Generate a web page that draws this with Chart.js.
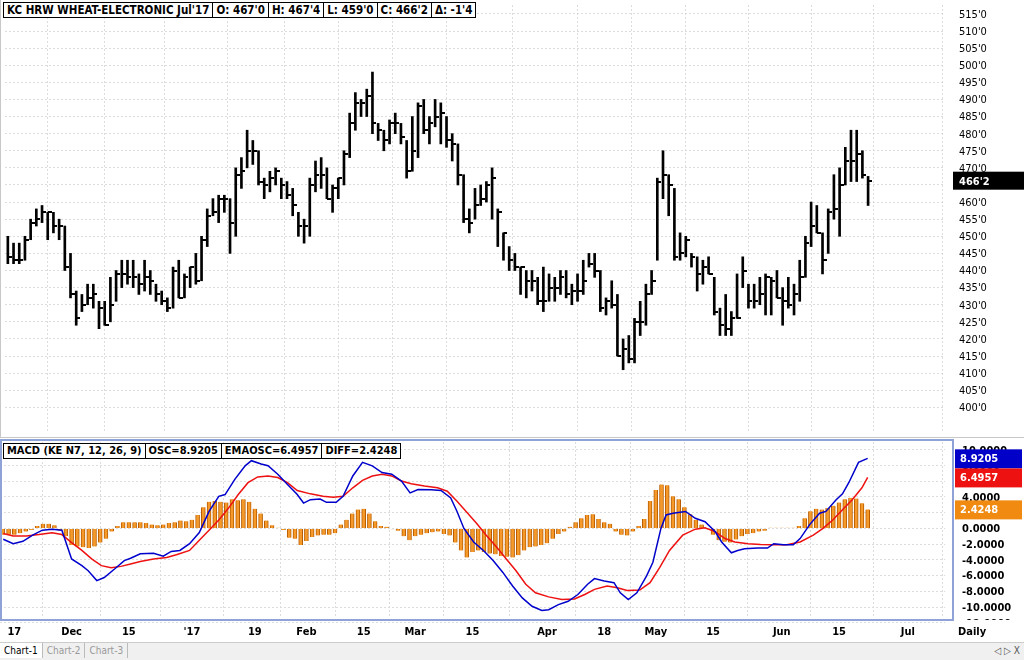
<!DOCTYPE html>
<html><head><meta charset="utf-8">
<script src="https://cdn.jsdelivr.net/npm/chart.js@4.4.1/dist/chart.umd.min.js"></script>
<style>
body{margin:0;width:1024px;height:660px;background:#fff;overflow:hidden;font-family:"DejaVu Sans Condensed","DejaVu Sans",sans-serif;position:relative}
#c1{position:absolute;left:0;top:0}
#c2{position:absolute;left:0;top:437px}
.hdr{position:absolute;display:flex;border:1px solid #000;background:#fff;font-size:11.5px;font-weight:bold;height:14px;line-height:14px;white-space:nowrap}
.hdr span{padding:0 3px;border-right:1px solid #000}
.hdr span:last-child{border-right:none}
#tabs{position:absolute;left:0;top:642px;width:1024px;height:18px;background:#f0f0f0;border-top:1px solid #ccc;font-size:10px}
#tabs span{display:inline-block;padding:2px 4px;color:#999;border-right:1px solid #bbb}
#tabs span.a{color:#000;background:#fff}
</style></head><body>
<canvas id="c1" width="1024" height="437"></canvas>
<canvas id="c2" width="1024" height="205"></canvas>
<div class="hdr" style="left:3px;top:2px"><span>KC HRW WHEAT-ELECTRONIC Jul'17</span><span>O: 467'0</span><span>H: 467'4</span><span>L: 459'0</span><span>C: 466'2</span><span>Δ: -1'4</span></div>
<div class="hdr" style="left:3px;top:443px;font-size:11px"><span>MACD (KE N7, 12, 26, 9)</span><span>OSC=8.9205</span><span>EMAOSC=6.4957</span><span>DIFF=2.4248</span></div>
<div id="tabs"><span class="a">Chart-1</span><span>Chart-2</span><span>Chart-3</span><span style="float:right;border:none;color:#555">◁ ▷ X</span></div>
<script>
const priceHigh=[450,448,448,450,455,458,459,457,457,455,453,445,434,433,436,436,431,431,438,440,443,443,443,439,443,440,436,434,432,441,443,439,441,445,450,458,461,462,462,461,470,473,
481,478,475,467,469,470,467,466,464,457,455,467,472,473,470,465,467,475,486,492,490,493,498,483,481,484,486,483,478,485,489,490,485,490,489,485,480,477,468,458,
464,465,466,470,458,451,447,445,441,440,440,438,441,439,438,440,440,436,439,443,445,445,440,432,437,433,420,421,426,431,436,440,467,475,468,464,451,450,445,444,
443,444,438,429,433,428,439,444,436,436,438,439,438,440,435,438,436,443,450,460,459,451,458,468,470,476,481,481,475,467.5];
const priceLow=[442,442,442,443,449,453,454,449,451,449,440,432,424,428,430,429,423,424,425,431,435,436,435,433,434,433,431,430,428,429,432,432,435,436,437,447,456,454,457,445,450,464,
470,471,465,461,463,465,461,461,456,450,448,450,463,464,461,457,461,465,473,481,485,485,480,478,475,477,480,477,467,469,473,480,477,482,477,476,472,465,454,451,
455,459,460,455,447,443,440,440,433,432,434,430,428,431,431,433,432,430,431,433,441,438,428,427,429,415,411,413,413,421,424,433,443,461,456,443,443,444,441,434,
436,439,427,421,421,421,426,435,429,429,430,427,427,432,424,429,427,431,438,447,451,439,445,455,450,465,466,466,467,459];
const priceClose=[444,443,443,449,454,455,457,457,453,453,441,433,426,430,432,433,429,424,430,439,439,438,438,436,438,437,433,431,429,440,432,438,441,437,449,456,457,461,461,454,468,469,
475,475,466,465,467,469,465,462,459,453,453,465,468,468,461,464,467,474,483,489,489,491,483,481,478,483,483,479,469,475,488,481,483,485,486,478,477,468,455,454,
459,461,465,467,457,451,443,441,441,437,437,431,431,435,435,438,433,434,434,437,442,440,429,431,430,415,417,414,425,425,433,437,466,468,465,444,445,449,444,439,
441,439,428,424,423,426,426,440,431,431,433,438,437,432,431,430,433,438,448,453,451,443,457,458,465,472,472,474,468,466.25];
const xTickPos=[2,12,22,33,44,53,63,72,82,95,105,114,124,136,146,158];
const xTickLabels=["17","Dec","15","'17","19","Feb","15","Mar","15","Apr","18","May","15","Jun","15","Jul"];
const histValues=[-0.8,-0.8,-0.8,-0.6,-0.4,-0.2,0.3,0.6,0.6,0.4,-0.3,-1.0,-2.1,-2.3,-2.4,-2.5,-2.3,-1.8,-1.3,-0.4,0.3,0.8,0.8,0.8,0.8,0.7,0.5,0.4,0.5,0.7,0.8,1.0,0.9,1.1,1.7,2.7,3.4,3.5,3.4,3.3,3.7,3.6,3.7,3.4,2.5,1.9,1.0,0.4,0.1,-0.2,
-1.2,-1.3,-2.1,-1.6,-1.1,-0.9,-0.8,-0.8,-0.6,0.5,1.1,1.9,2.4,2.5,1.9,0.9,0.3,0.2,-0.1,-0.3,-1.0,-1.5,-1.0,-0.8,-0.6,-0.5,-0.4,-0.7,-0.9,-1.8,-2.8,-3.7,-3.0,-2.8,-3.0,-3.2,-3.3,-3.5,-3.6,-3.7,-3.4,-2.8,-2.4,-2.3,-2.1,-1.9,-1.3,-0.7,-0.4,0.2,
0.8,1.3,1.7,1.8,1.2,0.8,0.6,-0.4,-0.8,-0.9,-0.4,0.3,1.2,3.5,4.9,5.6,5.5,4.1,3.7,2.7,1.8,1.1,0.5,-0.1,-0.8,-1.5,-1.7,-1.8,-1.4,-1.0,-0.7,-0.6,-0.4,-0.3,0.1,0.1,0.1,0.1,0.1,0.3,1.3,2.2,2.5,2.4,2.6,2.9,3.3,3.7,3.9,3.8,3.2,2.4248];
const oscX=[0.07,1.8,3.5,5.2,6.9,8.6,10.3,12.0,13.8,14.9,16.4,17.7,19.5,21.2,22.3,24.0,26.3,28.0,29.4,30.9,32.6,34.3,36.0,37.7,38.8,40.5,42.3,43.4,45.1,46.3,48.0,49.7,51.4,52.5,53.7,55.4,56.5,58.2,59.4,61.1,62.8,64.5,66.2,67.9,69.6,71.1,72.5,74.8,76.5,78.2,79.3,80.5,82.2,83.9,85.6,87.3,89.0,90.7,92.4,94.1,95.3,97.0,98.7,100.4,102.1,103.3,105.0,106.7,107.8,109.2,110.7,112.4,113.5,114.9,115.8,117.0,119.2,120.9,122.6,124.4,125.5,127.2,128.3,129.5,131.8,133.5,134.6,136.3,138.0,139.2,140.9,142.6,143.7,145.5,146.6,147.7,149.4,151];
const oscY=[-1.38,-1.94,-1.64,-0.86,-0.22,-0.09,-0.22,-3.88,-4.74,-5.39,-6.64,-6.25,-5.17,-4.09,-3.79,-3.23,-3.15,-3.53,-2.93,-2.80,-1.94,-0.52,2.16,4.09,4.31,6.25,7.97,8.62,8.19,7.97,6.90,5.60,4.31,3.23,3.66,3.75,3.32,3.32,4.09,6.68,8.41,7.97,7.11,6.90,6.03,4.53,4.96,4.91,4.83,3.88,2.16,0,-1.72,-2.80,-4.09,-5.60,-7.33,-8.84,-9.91,-10.43,-10.34,-9.70,-9.27,-8.41,-7.11,-6.38,-6.68,-6.90,-8.19,-9.05,-8.19,-6.03,-4.31,0,1.72,1.94,2.16,1.29,0.86,-0.43,-1.72,-3.10,-2.80,-2.59,-2.50,-2.50,-1.94,-2.07,-2.07,-1.29,0.52,1.94,2.16,3.66,4.40,5.82,8.41,8.9205];
const emaX=[0.07,1.8,4.1,6.3,8.6,10.3,12.0,13.8,15.5,17.2,18.9,20.6,22.3,24.0,26.3,28.6,30.3,32.6,34.3,36.0,37.7,39.4,41.1,42.8,44.5,46.3,48.0,49.7,51.4,53.7,55.9,57.7,59.4,61.1,62.8,64.5,66.2,67.9,69.6,71.3,73.6,75.9,77.6,79.3,81.0,82.7,84.4,86.2,87.9,89.6,91.3,93.0,95.3,97.6,99.8,101.6,103.3,105.5,107.3,109.0,111.2,113.0,114.7,116.4,118.7,120.9,122.6,124.4,126.1,127.8,130.1,132.3,134.6,136.9,139.2,141.5,143.2,144.9,146.6,148.3,150.0,151];
const emaY=[-0.65,-0.95,-0.95,-0.78,-0.56,-0.78,-1.81,-2.80,-3.88,-4.74,-5.00,-4.83,-4.53,-4.22,-3.88,-3.71,-3.36,-2.80,-1.51,-0.22,1.08,2.59,4.31,5.82,6.55,6.68,6.47,5.82,4.83,4.40,4.09,3.97,4.09,5.17,6.12,6.68,6.90,6.68,6.03,5.69,5.39,5.17,4.74,3.45,2.07,0.65,-0.86,-2.37,-3.88,-5.39,-7.11,-8.19,-8.71,-9.05,-8.97,-8.41,-7.76,-7.33,-7.54,-7.89,-7.84,-6.90,-4.96,-2.80,-0.86,-0.09,0.09,-0.43,-1.29,-1.72,-1.94,-2.03,-2.07,-2.07,-1.72,-0.86,0,1.08,2.37,3.66,5.17,6.4957];
const priceTicks=[400,405,410,415,420,425,430,435,440,445,450,455,460,465,470,475,480,485,490,495,500,505,510,515];
const macdTicks=[-12,-10,-8,-6,-4,-2,0,2,4,6,8,10];

const FF="'DejaVu Sans Condensed','DejaVu Sans',sans-serif";
const grid={color:'#dcdcdc',drawTicks:false};
const border={display:false,dash:[2,2]};
function fmtPrice(v){const w=Math.floor(v);const e=Math.round((v-w)*8);return w+"'"+e;}
const tickImg=document.createElement('canvas');tickImg.width=8;tickImg.height=2;
{const g=tickImg.getContext('2d');g.fillStyle='#000';g.fillRect(4,0,4,2);}
const X_MIN=-0.5,X_MAX=164.5;
const xScale=()=>({type:'linear',offset:false,min:X_MIN,max:X_MAX,afterBuildTicks:s=>{s.ticks=xTickPos.map(v=>({value:v}));},afterFit:s=>{s.height=0;},ticks:{display:false},grid:grid,border:border});
const yScale=(min,max,ticks)=>({position:'right',min,max,afterFit:s=>{s.width=79;},afterBuildTicks:s=>{s.ticks=ticks.map(v=>({value:v}));},ticks:{display:false},grid:grid,border:border});

new Chart(document.getElementById('c1'),{
 type:'bar',
 data:{datasets:[
  {type:'bar',data:priceHigh.map((h,i)=>({x:i,y:[priceLow[i],h]})),backgroundColor:'#000',barThickness:2,order:2},
  {type:'line',data:priceClose.map((c,i)=>({x:i,y:c})),showLine:false,pointStyle:tickImg,pointRadius:4,order:1}
 ]},
 options:{animation:false,responsive:false,events:[],layout:{padding:0},
  plugins:{legend:{display:false},tooltip:{enabled:false}},
  scales:{x:xScale(),y:yScale(392.8,517.6,priceTicks)}},
 plugins:[{id:'last',afterDraw(c){const g=c.ctx,ys=c.scales.y;
   g.font="11px "+FF;g.textBaseline='middle';g.fillStyle='#000';
   priceTicks.forEach(v=>g.fillText(fmtPrice(v),959,ys.getPixelForValue(v)+1));
   const lc=priceClose[priceClose.length-1],y=ys.getPixelForValue(lc);
   g.fillStyle='#000';g.fillRect(953,y-9,71,18);g.fillStyle='#fff';g.font="bold 11px "+FF;g.fillText(fmtPrice(lc),959,y+1);
   g.fillStyle='#c8c8c8';g.fillRect(0,0,1,437);}}]
});

const boxes=[{v:8.9205,bg:'#0000c8'},{v:6.4957,bg:'#ee1111'},{v:2.4248,bg:'#f08a10'}];
new Chart(document.getElementById('c2'),{
 type:'bar',
 data:{datasets:[
  {type:'line',data:oscX.map((x,i)=>({x,y:oscY[i]})),borderColor:'#0000cc',borderWidth:1.5,pointRadius:0,order:1},
  {type:'line',data:emaX.map((x,i)=>({x,y:emaY[i]})),borderColor:'#ee1111',borderWidth:1.5,pointRadius:0,order:2},
  {type:'bar',data:histValues.map((v,i)=>({x:i,y:v})),backgroundColor:'#f59a2a',borderColor:'#b85c00',borderWidth:{left:1,right:1,top:0,bottom:0},barThickness:4,order:3}
 ]},
 options:{animation:false,responsive:false,events:[],layout:{padding:{top:5,bottom:24}},
  plugins:{legend:{display:false},tooltip:{enabled:false}},
  scales:{x:xScale(),y:yScale(-11.4,11.0,macdTicks)}},
 plugins:[{id:'deco',afterDraw(c){const g=c.ctx,a=c.chartArea,ys=c.scales.y,xs=c.scales.x;
   g.save();g.beginPath();g.rect(0,a.top-2,1024,a.bottom-a.top+4);g.clip();
   g.font="bold 11px "+FF;g.textBaseline='middle';g.fillStyle='#000';
   macdTicks.forEach(v=>g.fillText(v.toFixed(4),962,ys.getPixelForValue(v)+1));g.restore();
   g.strokeStyle='#8ea2d8';g.lineWidth=2;g.strokeRect(1,a.top-2,952,a.bottom-a.top+4);
   g.font="bold 11px "+FF;g.textBaseline='middle';
   boxes.forEach(b=>{const y=ys.getPixelForValue(b.v);g.fillStyle=b.bg;g.fillRect(955,y-9,67,19);g.fillStyle='#fff';g.fillText(b.v.toFixed(4),960,y+1);});
   g.fillStyle='#000';g.textAlign='center';
   xTickPos.forEach((p,i)=>g.fillText(xTickLabels[i],xs.getPixelForValue(p),c.height-10));
   g.textAlign='left';g.fillText('Daily',958,c.height-10);
   g.fillStyle='#c8c8c8';g.fillRect(0,0,1024,1);}}]
});
</script></body></html>
